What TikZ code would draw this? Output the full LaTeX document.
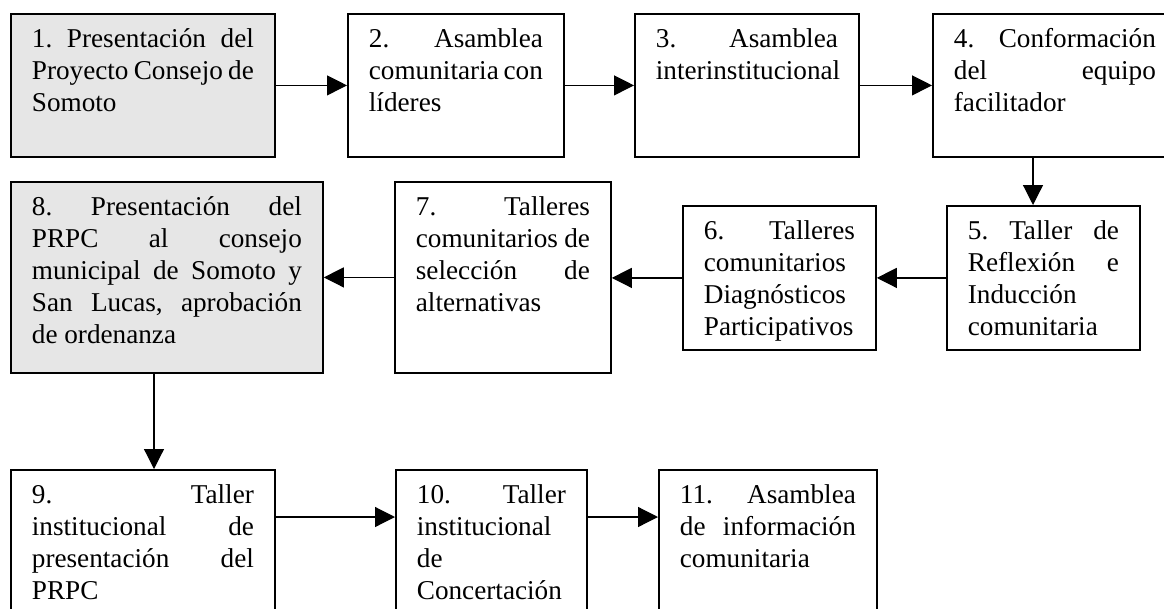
\documentclass[tikz,border=0pt]{standalone}
\usepackage{fontspec}
\setmainfont{Liberation Serif}
\usepackage{tikz}
\usetikzlibrary{arrows.meta}
\hyphenpenalty=10000
\exhyphenpenalty=10000
\frenchspacing
% text of a box: width, height, words (set at the top, justified)
\newcommand{\boxtext}[3]{\parbox[t][#2pt][t]{#1pt}{\sloppy\strut #3}}

\begin{document}
\begin{tikzpicture}[x=1pt,y=1pt,yscale=-1,
    stepbox/.style={draw, line width=1.8pt, anchor=north west, inner xsep=21pt, inner ysep=11.5pt,
        font=\fontsize{27.2}{32}\selectfont},
    greybox/.style={stepbox, fill={rgb, 255:red, 230; green, 230; blue, 230 }},
    flow/.style={line width=1.2pt, -{Triangle[length=20pt,width=20pt]}}]
    \useasboundingbox (0,0) rectangle (1164,608);
    \clip (0,0) rectangle (1164,608);

    %Shape: Rectangle - first row
    \node [greybox] (s1) at (10,13) {\boxtext{222}{120}{1. Presentación del\linebreak Proyecto Consejo de\linebreak Somoto}};
    \node [stepbox] (s2) at (347,13) {\boxtext{174}{120}{2. Asamblea\linebreak comunitaria con\linebreak líderes}};
    \node [stepbox] (s3) at (634,13) {\boxtext{182}{120}{3. Asamblea\linebreak interinstitucional}};
    \node [stepbox] (s4) at (932,13) {\boxtext{202}{120}{4. Conformación\linebreak del equipo\linebreak facilitador}};

    %Shape: Rectangle - second row
    \node [stepbox] (s5) at (946,205) {\boxtext{151}{121}{5. Taller de\linebreak Reflexión e\linebreak Inducción\linebreak comunitaria}};
    \node [stepbox] (s6) at (682,205) {\boxtext{151}{121}{6. Talleres\linebreak comunitarios\linebreak Diagnósticos\linebreak Participativos}};
    \node [stepbox] (s7) at (394,181) {\boxtext{174}{168}{7. Talleres\linebreak comunitarios de\linebreak selección de\linebreak alternativas}};
    \node [greybox] (s8) at (10,181) {\boxtext{270}{168}{8. Presentación del\linebreak PRPC al consejo\linebreak municipal de Somoto y\linebreak San Lucas, aprobación\linebreak de ordenanza}};

    %Shape: Rectangle - third row (cut by the page)
    \node [stepbox] (s9) at (10,469) {\boxtext{222}{140}{9. Taller\linebreak institucional de\linebreak presentación del\linebreak PRPC}};
    \node [stepbox] (s10) at (395,469) {\boxtext{149}{140}{10. Taller\linebreak institucional\linebreak de\linebreak Concertación}};
    \node [stepbox] (s11) at (658,469) {\boxtext{176}{140}{11. Asamblea\linebreak de información\linebreak comunitaria}};

    \coordinate (v45) at (1033,0);
    \coordinate (v89) at (154,0);
    \coordinate (h9) at (0,517);

    %Straight Lines
    \draw [flow] (s1) -- (s2);
    \draw [flow] (s2) -- (s3);
    \draw [flow] (s3) -- (s4);
    \draw [flow] (s4.south -| v45) -- (s5.north -| v45);
    \draw [flow] (s5.west) -- (s6.east);
    \draw [flow] (s6.west) -- (s6.west -| s7.east);
    \draw [flow] (s7.west) -- (s8.east);
    \draw [flow] (s8.south -| v89) -- (s9.north -| v89);
    \draw [flow] (s9.east |- h9) -- (s10.west |- h9);
    \draw [flow] (s10.east |- h9) -- (s11.west |- h9);

\end{tikzpicture}
\end{document}
